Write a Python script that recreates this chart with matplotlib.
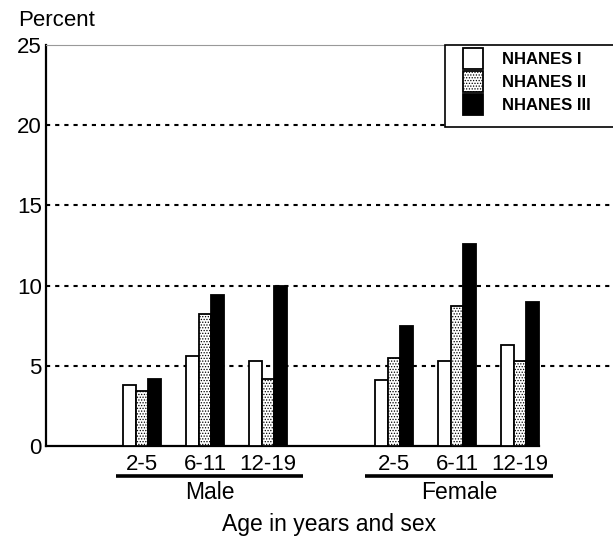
import matplotlib
matplotlib.use("Agg")
import matplotlib.pyplot as plt
import matplotlib.transforms as mtransforms
from matplotlib.patches import Rectangle

plt.rcParams['font.family'] = ['Liberation Sans', 'DejaVu Sans']
plt.rcParams['hatch.linewidth'] = 0.6

# data (percent)
ages = ["2-5", "6-11", "12-19"]
sexes = ["Male", "Female"]
series = ["NHANES I", "NHANES II", "NHANES III"]
nhanes1 = [3.8, 5.6, 5.3, 4.1, 5.3, 6.3]
nhanes2 = [3.4, 8.2, 4.2, 5.5, 8.7, 5.3]
nhanes3 = [4.2, 9.4, 10.0, 7.5, 12.6, 9.0]
yticks = [0, 5, 10, 15, 20, 25]

pos = [0, 1, 2, 4, 5, 6]
w = 0.205

fig = plt.figure(figsize=(6.13, 5.4), dpi=100)
ax = fig.add_axes([46 / 613, 94 / 540, 567 / 613, 401 / 540])

styles = [
    dict(facecolor="white", edgecolor="black", hatch=None),
    dict(facecolor="white", edgecolor="black", hatch="......"),
    dict(facecolor="black", edgecolor="black", hatch=None),
]
handles = []
for i, (vals, st) in enumerate(zip([nhanes1, nhanes2, nhanes3], styles)):
    xs = [p + (i - 1) * w for p in pos]
    b = ax.bar(xs, vals, w, linewidth=1.3, label=series[i], zorder=3, **st)
    handles.append(b)

ax.set_ylim(0, 25)
ax.set_xlim(-1.524, 7.476)
ax.set_yticks(yticks)
ax.set_yticklabels([str(t) for t in yticks], fontsize=16)
ax.set_xticks([])
ax.tick_params(axis='y', length=0, pad=3)

for y in yticks[1:-1]:
    ax.axhline(y, color="black", lw=1.5, linestyle=(0, (2, 2.4)), zorder=1)

ax.spines['right'].set_visible(False)
ax.spines['top'].set_color("#999999")
ax.spines['top'].set_linewidth(0.8)
ax.spines['left'].set_linewidth(1.6)
ax.spines['bottom'].set_linewidth(1.6)
ax.spines['bottom'].set_bounds(-1.524, 6.3)

trans = mtransforms.blended_transform_factory(ax.transData, ax.transAxes)
for p, lab in zip(pos, ages * 2):
    ax.text(p, -0.047, lab, transform=trans, ha="center", va="center",
            fontsize=16, clip_on=False)

for (x0, x1), s in zip([(-0.41, 2.56), (3.54, 6.52)], sexes):
    ax.plot([x0, x1], [-0.075, -0.075], transform=trans, color="black",
            lw=2.6, clip_on=False, solid_capstyle="butt")
    ax.text((x0 + x1) / 2, -0.117, s, transform=trans, ha="center",
            va="center", fontsize=16.5, clip_on=False)

fig.text(329 / 613, 1 - 524 / 540, "Age in years and sex", ha="center",
         va="center", fontsize=16.5)
fig.text(18 / 613, 1 - 20 / 540, "Percent", ha="left", va="center",
         fontsize=16)

# legend box
ax.add_patch(Rectangle((0.704, 0.7955), 0.3, 0.2045, transform=ax.transAxes,
                       facecolor="white", edgecolor="black", lw=1.2,
                       zorder=4, clip_on=False))
leg = ax.legend(handles=handles, loc="upper left",
                bbox_to_anchor=(0.7354, 0.9925), borderaxespad=0,
                borderpad=0, frameon=False, handlelength=1.2,
                handleheight=1.55, labelspacing=0.12, handletextpad=1.15,
                prop=dict(weight="bold", size=12))
leg.set_zorder(5)

fig.savefig("out.png", dpi=100)
